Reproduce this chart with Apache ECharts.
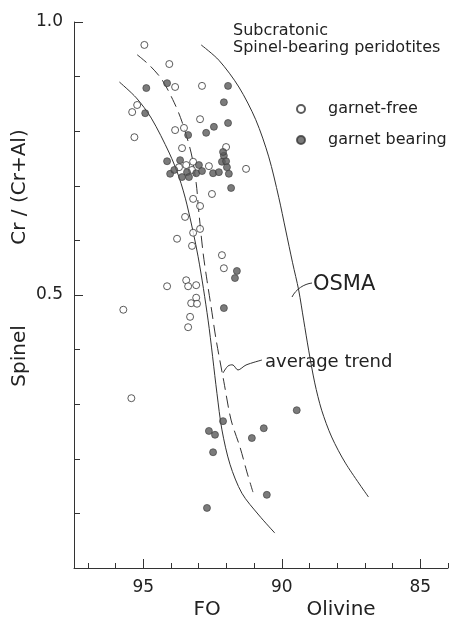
<!DOCTYPE html>
<html>
<head>
<meta charset="utf-8">
<title>Subcratonic spinel-bearing peridotites</title>
<script src="https://cdn.jsdelivr.net/npm/echarts@6/dist/echarts.min.js"></script>
<style>
  html, body { margin: 0; padding: 0; background: #fff; }
  #main { width: 451px; height: 620px; }
</style>
</head>
<body>
<div id="main"></div>
<script>
// Fo (olivine) vs Cr/(Cr+Al) (spinel)
var garnetFree = [
    [94.96, 0.958], [94.06, 0.923], [93.85, 0.881], [92.88, 0.883], [95.22, 0.848],
    [95.40, 0.835], [95.32, 0.789], [93.85, 0.802], [93.53, 0.806], [92.95, 0.822],
    [93.60, 0.769], [92.01, 0.771], [93.71, 0.734], [93.45, 0.738], [93.20, 0.744],
    [93.24, 0.729], [92.63, 0.736], [91.29, 0.731], [92.52, 0.685], [93.20, 0.676],
    [92.95, 0.663], [93.49, 0.643], [93.20, 0.614], [92.95, 0.621], [93.78, 0.603],
    [93.24, 0.590], [92.16, 0.573], [92.09, 0.549], [93.45, 0.527], [94.14, 0.516],
    [93.38, 0.516], [93.09, 0.518], [93.09, 0.495], [93.27, 0.485], [93.06, 0.484],
    [93.31, 0.460], [93.38, 0.441], [95.72, 0.473], [95.43, 0.311]
];
var garnetBearing = [
    [94.14, 0.888], [94.89, 0.879], [94.93, 0.833], [91.94, 0.883], [92.09, 0.853],
    [91.94, 0.815], [92.45, 0.808], [92.73, 0.797], [93.38, 0.793],
    [94.14, 0.745], [94.03, 0.722], [93.88, 0.729], [93.67, 0.747], [93.60, 0.716],
    [93.42, 0.725], [93.35, 0.716], [93.09, 0.723], [92.99, 0.738], [92.88, 0.727],
    [92.48, 0.723], [92.27, 0.725], [92.16, 0.744], [92.09, 0.755], [92.01, 0.745],
    [91.98, 0.734], [91.91, 0.722], [92.12, 0.762],
    [91.83, 0.696], [91.62, 0.544], [91.69, 0.531], [92.09, 0.476], [92.12, 0.269],
    [92.63, 0.251], [92.41, 0.244], [92.48, 0.212], [91.08, 0.238], [90.65, 0.256],
    [89.46, 0.289], [90.54, 0.134], [92.70, 0.110]
];
// curves
var osmaLeft = [
    [95.86, 0.890], [95.25, 0.861], [94.71, 0.824], [94.06, 0.760], [93.71, 0.716],
    [93.42, 0.665], [93.02, 0.570], [92.66, 0.454], [92.34, 0.320], [92.16, 0.253],
    [91.87, 0.190], [91.44, 0.137], [90.83, 0.097], [90.25, 0.064]
];
var averageTrend = [
    [95.22, 0.940], [94.78, 0.921], [94.32, 0.894], [93.88, 0.852], [93.60, 0.817],
    [93.27, 0.760], [93.09, 0.705], [92.99, 0.650], [92.84, 0.577], [92.70, 0.527],
    [92.55, 0.478], [92.37, 0.418], [92.09, 0.341], [91.83, 0.271], [91.50, 0.220],
    [91.26, 0.176], [91.04, 0.139]
];
var osmaRight = [
    [92.91, 0.958], [92.27, 0.930], [91.55, 0.881], [90.94, 0.821], [90.47, 0.753],
    [90.11, 0.679], [89.86, 0.619], [89.61, 0.559], [89.39, 0.509], [89.21, 0.454],
    [89.03, 0.399], [88.81, 0.339], [88.56, 0.289], [88.20, 0.240], [87.70, 0.192],
    [86.87, 0.130]
];
var xTickLabels = [85, 90, 95];
var yTickLabels = [0.5, 1.0];

var font = 'DejaVu Sans';
var ink = '#333';

var myChart = echarts.init(document.getElementById('main'));

function curve(name, data, dashed) {
    return {
        name: name,
        type: 'line',
        data: data,
        smooth: 0.3,
        showSymbol: false,
        silent: true,
        z: 1,
        lineStyle: { color: ink, width: 1, type: dashed ? [12, 6] : 'solid' }
    };
}

var option = {
    animation: false,
    backgroundColor: '#fff',
    title: {
        text: 'Subcratonic\nSpinel-bearing peridotites',
        left: 228,
        top: 17,
        textStyle: { fontFamily: font, fontSize: 16, fontWeight: 'normal', color: '#222', lineHeight: 17 }
    },
    legend: {
        data: ['garnet-free', 'garnet bearing'],
        orient: 'vertical',
        left: 291,
        top: 95,
        itemWidth: 8,
        itemHeight: 8,
        itemGap: 13,
        textStyle: { fontFamily: font, fontSize: 16, color: '#222', lineHeight: 18, padding: [0, 0, 0, 18] }
    },
    grid: { left: 74, top: 22, right: 3, bottom: 52 },
    xAxis: [{
        type: 'value',
        inverse: true,
        min: 84,
        max: 97.5,
        interval: 1,
        position: 'bottom',
        axisLine: { onZero: false, lineStyle: { color: ink, width: 1 } },
        axisTick: { inside: true, length: 5, lineStyle: { color: ink } },
        axisLabel: { show: false },
        splitLine: { show: false }
    }, {
        type: 'value',
        inverse: true,
        min: 84,
        max: 97.5,
        position: 'bottom',
        axisLine: { show: false, onZero: false },
        axisTick: { inside: true, length: 9, customValues: xTickLabels, lineStyle: { color: ink } },
        axisLabel: {
            customValues: xTickLabels,
            margin: 11,
            fontFamily: font,
            fontSize: 17,
            color: '#222'
        },
        splitLine: { show: false }
    }],
    yAxis: [{
        type: 'value',
        min: 0,
        max: 1,
        interval: 0.1,
        position: 'left',
        axisLine: { onZero: false, lineStyle: { color: ink, width: 1 } },
        axisTick: { inside: true, length: 6, lineStyle: { color: ink } },
        axisLabel: { show: false },
        splitLine: { show: false }
    }, {
        type: 'value',
        min: 0,
        max: 1,
        position: 'left',
        axisLine: { show: false, onZero: false },
        axisTick: { inside: true, length: 9, customValues: yTickLabels, lineStyle: { color: ink } },
        axisLabel: {
            customValues: yTickLabels,
            margin: 11,
            fontFamily: font,
            fontSize: 17,
            color: '#222',
            formatter: function (v) { return v.toFixed(1); }
        },
        splitLine: { show: false }
    }],
    series: [
        curve('OSMA left', osmaLeft, false),
        curve('average trend', averageTrend, true),
        curve('OSMA right', osmaRight, false),
        {
            name: 'garnet-free',
            type: 'scatter',
            data: garnetFree,
            symbol: 'circle',
            symbolSize: 7,
            z: 3,
            itemStyle: { color: '#fff', borderColor: '#333', borderWidth: 1 }
        },
        {
            name: 'garnet bearing',
            type: 'scatter',
            data: garnetBearing,
            symbol: 'circle',
            symbolSize: 7,
            z: 4,
            itemStyle: { color: '#5a5a5a', borderColor: '#3a3a3a', borderWidth: 0.8 }
        }
    ],
    graphic: [
        {
            type: 'text', x: 20, y: 187, rotation: Math.PI / 2,
            style: { text: 'Cr / (Cr+Al)', fontFamily: font, fontSize: 20, fill: '#222', align: 'center', verticalAlign: 'middle' }
        },
        {
            type: 'text', x: 20, y: 356, rotation: Math.PI / 2,
            style: { text: 'Spinel', fontFamily: font, fontSize: 20, fill: '#222', align: 'center', verticalAlign: 'middle' }
        },
        {
            type: 'text', x: 207, y: 610,
            style: { text: 'FO', fontFamily: font, fontSize: 20, fill: '#222', align: 'center', verticalAlign: 'middle' }
        },
        {
            type: 'text', x: 341, y: 610,
            style: { text: 'Olivine', fontFamily: font, fontSize: 20, fill: '#222', align: 'center', verticalAlign: 'middle' }
        },
        {
            type: 'text', x: 313, y: 285,
            style: { text: 'OSMA', fontFamily: font, fontSize: 21, fill: '#222', align: 'left', verticalAlign: 'middle' }
        },
        {
            type: 'text', x: 265, y: 362,
            style: { text: 'average trend', fontFamily: font, fontSize: 18, fill: '#222', align: 'left', verticalAlign: 'middle' }
        },
        {
            type: 'bezierCurve',
            shape: { x1: 292, y1: 297, cpx1: 296, cpy1: 289, cpx2: 304, cpy2: 284, x2: 312, y2: 283 },
            style: { stroke: ink, lineWidth: 1, fill: null }
        },
        {
            type: 'polyline',
            shape: { points: [[223, 373], [228, 366], [233, 365], [238, 370], [246, 365], [262, 360]], smooth: 0.3 },
            style: { stroke: ink, lineWidth: 1, fill: null }
        }
    ]
};

myChart.setOption(option);
</script>
</body>
</html>
